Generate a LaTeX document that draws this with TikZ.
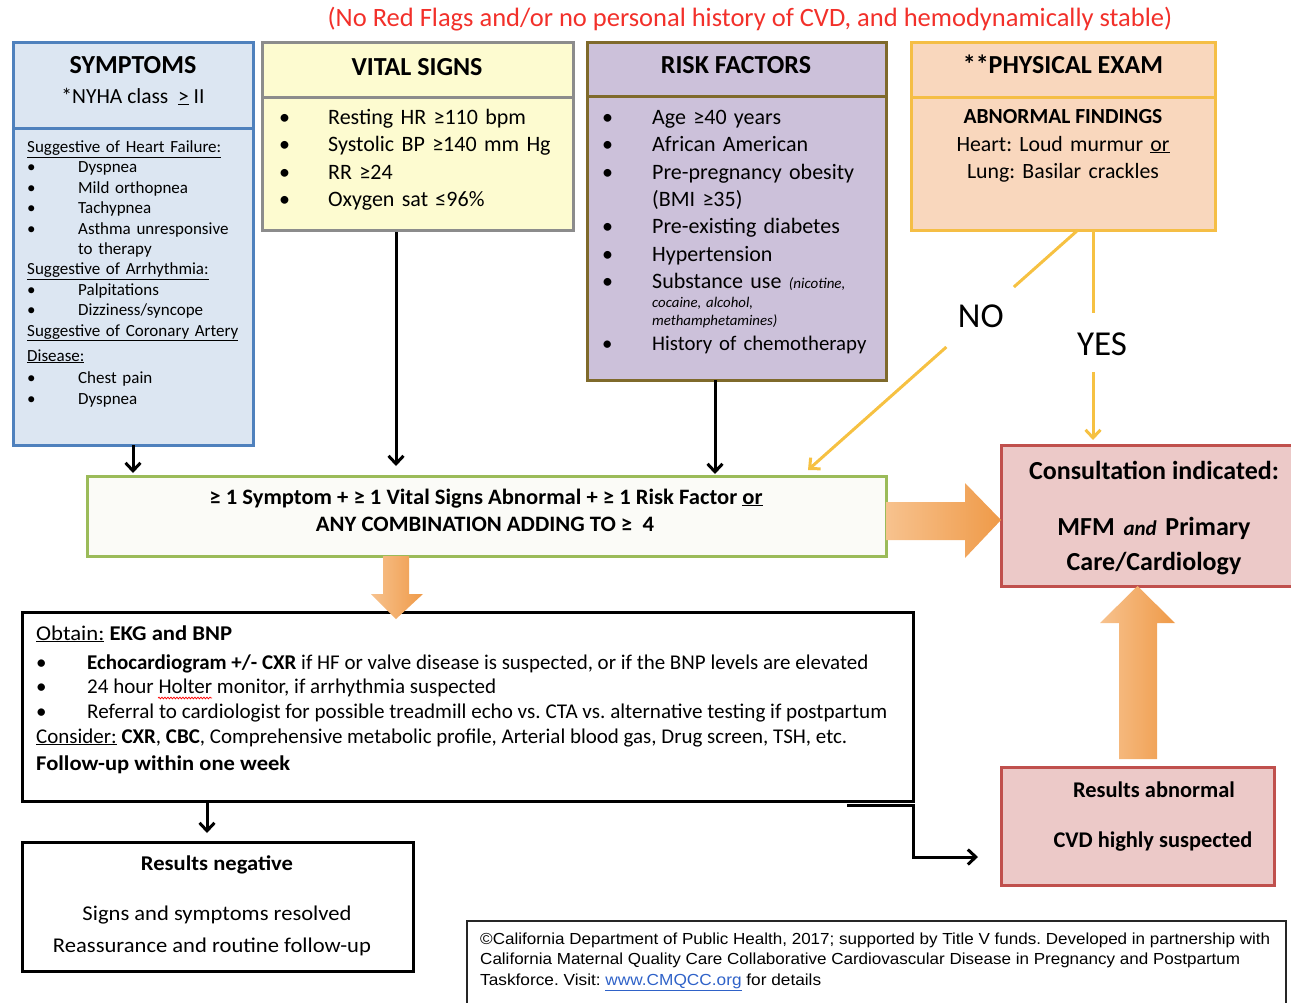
\documentclass[tikz,border=0pt]{standalone}
\usepackage{fontspec}
\usepackage{graphicx}
\setmainfont{Carlito}
\newfontfamily\arialf{Liberation Sans}
\usetikzlibrary{arrows.meta,calc,decorations.pathmorphing}
\definecolor{symF}{HTML}{DCE6F2}
\definecolor{symD}{HTML}{4F81BD}
\definecolor{vitF}{HTML}{FDFBD0}
\definecolor{vitD}{HTML}{8C8C8C}
\definecolor{rskF}{HTML}{CCC1DA}
\definecolor{rskD}{HTML}{7F6A2B}
\definecolor{phyF}{HTML}{F9D7BD}
\definecolor{phyD}{HTML}{F5BE45}
\definecolor{midF}{HTML}{FBFBF7}
\definecolor{midD}{HTML}{9BBB59}
\definecolor{conF}{HTML}{ECC9C8}
\definecolor{conD}{HTML}{C0504D}
\definecolor{orL}{HTML}{F7C28E}
\definecolor{orR}{HTML}{EF9A48}
\definecolor{gold}{HTML}{F6C142}
\definecolor{ttl}{HTML}{F2302A}
\definecolor{lnk}{HTML}{2F62C8}
\newcommand\fs[2]{\fontsize{#1}{#2}\selectfont}
\newcommand\bl[1]{\makebox[#1][l]{•}}
\frenchspacing
\tikzset{
  tl/.style={inner sep=0pt, anchor=base west},
  tcx/.style={inner sep=0pt, anchor=base},
  bx/.style={draw, line width=3pt, anchor=north west, inner sep=0pt, outer sep=0pt},
  arr/.style={line width=3pt, -{Straight Barb[length=8pt,width=15pt]}},
  yl/.style={draw=gold, line width=3pt},
  yarr/.style={yl, -{Straight Barb[length=8pt,width=15pt]}},
  oar/.style={left color=orL, right color=orR, draw=none},
}
\begin{document}
\begin{tikzpicture}[x=1pt,y=-1pt]
\useasboundingbox (0,0) rectangle (1291,1002);

% title
\node[tcx,text=ttl,font=\fs{26.5}{30}] (title) at (750,26) {(No Red Flags and/or no personal history of CVD, and hemodynamically stable)};

% symptoms
\node[bx,draw=symD,fill=symF,minimum width=240pt,minimum height=317pt] (symB) at (13,128) {};
\node[bx,draw=symD,fill=symF,minimum width=240pt,minimum height=86pt] (symH) at (13,42) {};
\node[tcx,font=\fs{26}{30}\bfseries] (symT) at (133,73.5) {SYMPTOMS};
\node[tcx,font=\fs{21.5}{24}] (nyha) at (133,103) {*NYHA class\ \ \underline{>}\ II};
\node[tl,text width=230pt,align=left,font=\fs{17}{20.4}] (symL) at (27,152.5) {\underline{Suggestive of Heart Failure:}\\
\bl{51pt}Dyspnea\\ \bl{51pt}Mild orthopnea\\ \bl{51pt}Tachypnea\\ \bl{51pt}Asthma unresponsive\\ \hspace*{51pt}to therapy\\
\underline{Suggestive of Arrhythmia:}\\ \bl{51pt}Palpitations\\ \bl{51pt}Dizziness/syncope\\
\underline{Suggestive of Coronary Artery}\\[4.6pt] \underline{Disease:}\\[1.6pt] \bl{51pt}Chest pain\\[0.6pt] \bl{51pt}Dyspnea};

% vital signs
\node[bx,draw=vitD,fill=vitF,minimum width=311pt,minimum height=133pt] (vitB) at (262,97) {};
\node[bx,draw=vitD,fill=vitF,minimum width=311pt,minimum height=55pt] (vitH) at (262,42) {};
\node[tcx,font=\fs{26}{30}\bfseries] (vitT) at (417,75) {VITAL SIGNS};
\node[tl,text width=300pt,align=left,font=\fs{22}{27.3}] (vitL) at (279,124.5) {\bl{49pt}Resting HR ≥110 bpm\\ \bl{49pt}Systolic BP ≥140 mm Hg\\ \bl{49pt}RR ≥24\\ \bl{49pt}Oxygen sat ≤96\%};

% risk factors
\node[bx,draw=rskD,fill=rskF,minimum width=299pt,minimum height=284pt] (rskB) at (587,96) {};
\node[bx,draw=rskD,fill=rskF,minimum width=299pt,minimum height=54pt] (rskH) at (587,42) {};
\node[tcx,font=\fs{26}{30}\bfseries] (rskT) at (736,73) {RISK FACTORS};
\node[tl,text width=290pt,align=left,font=\fs{22}{27.3}] (rskL) at (602,124.5) {\bl{50pt}Age ≥40 years\\ \bl{50pt}African American\\ \bl{50pt}Pre-pregnancy obesity\\ \hspace*{50pt}(BMI ≥35)\\ \bl{50pt}Pre-existing diabetes\\ \bl{50pt}Hypertension\\ \bl{50pt}Substance use {\fs{15}{27.3}\itshape (nicotine,}};
\node[tl,text width=200pt,align=left,font=\fs{14.8}{18}\itshape] (rskS) at (652,307) {cocaine, alcohol,\\ methamphetamines)};
\node[tl,text width=290pt,align=left,font=\fs{20.8}{27}] (rskC) at (602,350) {\bl{50pt}History of chemotherapy};

% physical exam
\node[bx,draw=phyD,fill=phyF,minimum width=304pt,minimum height=133pt] (phyB) at (911,97) {};
\node[bx,draw=phyD,fill=phyF,minimum width=304pt,minimum height=55pt] (phyH) at (911,42) {};
\node[tcx,font=\fs{26}{30}\bfseries] (phyT) at (1063,73) {**PHYSICAL EXAM};
\node[tcx,font=\fs{21.5}{27}\bfseries] (abn) at (1063,123) {ABNORMAL FINDINGS};
\node[tcx,text width=300pt,align=center,font=\fs{21.8}{27}] (phyL) at (1063,151) {Heart: Loud murmur \underline{or}\\ Lung: Basilar crackles};

% middle criteria box
\node[bx,draw=midD,fill=midF,minimum width=799pt,minimum height=80pt] (mid) at (87,476) {};
\node[tcx,font=\fs{22}{26}\bfseries] (midA) at (486,504) {\resizebox{553pt}{\height}{≥ 1 Symptom + ≥ 1 Vital Signs Abnormal + ≥ 1 Risk Factor \underline{or}}};
\node[tcx,font=\fs{22}{26}\bfseries] (midB) at (485,531) {\resizebox{338pt}{\height}{ANY COMBINATION ADDING TO ≥\ \ 4}};

% consultation
\node[bx,draw=conD,fill=conF,minimum width=293pt,minimum height=141pt] (con) at (1001,445) {};
\node[tcx,font=\fs{26}{30}\bfseries] (conA) at (1154,479) {Consultation indicated:};
\node[tcx,font=\fs{26}{35}\bfseries,align=center,text width=280pt] (conB) at (1154,535) {MFM {\fs{21}{35}\itshape and} Primary\\ Care/Cardiology};

% results abnormal
\node[bx,draw=conD,fill=conF,minimum width=273pt,minimum height=118pt] (abnR) at (1001,767) {};
\node[tcx,font=\fs{22.4}{26}\bfseries] (abnA) at (1154,797) {Results abnormal};
\node[tcx,font=\fs{22.4}{26}\bfseries] (abnB) at (1153,847) {CVD highly suspected};

% obtain box
\node[bx,draw=black,fill=white,minimum width=891pt,minimum height=189pt] (obt) at (22,612) {};
\node[tl,font=\fs{21}{25}] (obA) at (36,640) {\resizebox{196pt}{\height}{\underline{Obtain:} \textbf{EKG and BNP}}};
\node[tl,text width=20pt,align=left,font=\fs{21}{24.5}] (obBul) at (36,669) {•\\•\\•};
\node[tl,font=\fs{21}{25}] (ob1) at (87,669) {\resizebox{781pt}{\height}{\textbf{Echocardiogram +/- CXR} if HF or valve disease is suspected, or if the BNP levels are elevated}};
\node[tl,font=\fs{21}{25}] (ob2) at (87,693.5) {\resizebox{409pt}{\height}{24 hour Holter monitor, if arrhythmia suspected}};
\node[tl,font=\fs{21}{25}] (ob3) at (87,718) {\resizebox{800pt}{\height}{Referral to cardiologist for possible treadmill echo vs. CTA vs. alternative testing if postpartum}};
\node[tl,font=\fs{21}{25}] (ob4) at (36,743) {\resizebox{811pt}{\height}{\underline{Consider:} \textbf{CXR}, \textbf{CBC}, Comprehensive metabolic profile, Arterial blood gas, Drug screen, TSH, etc.}};
\node[tl,font=\fs{21}{25}\bfseries] (ob5) at (36,770) {\resizebox{254pt}{\height}{Follow-up within one week}};
\draw[red, line width=0.7pt, decorate, decoration={snake,amplitude=0.9pt,segment length=3pt}] (158,698) -- (212,698);

% results negative
\node[bx,draw=black,fill=white,minimum width=391pt,minimum height=129pt] (neg) at (22,842) {};
\node[tcx,font=\fs{21}{25}\bfseries] (negA) at (217,870) {\resizebox{152pt}{\height}{Results negative}};
\node[tcx,font=\fs{21}{25}] (negB) at (217,920) {\resizebox{269pt}{\height}{Signs and symptoms resolved}};
\node[tcx,font=\fs{21}{25}] (negC) at (212,952) {\resizebox{318pt}{\height}{Reassurance and routine follow-up}};

% footer
\node[bx,draw=black!85,line width=1.3pt,minimum width=819pt,minimum height=95pt] (foot) at (467,921) {};
\node[tl,font=\arialf\fs{16}{20}] (ftA) at (480,944) {\resizebox{790pt}{\height}{©California Department of Public Health, 2017; supported by Title V funds. Developed in partnership with}};
\node[tl,font=\arialf\fs{16}{20}] (ftB) at (480,964.5) {\resizebox{760pt}{\height}{California Maternal Quality Care Collaborative Cardiovascular Disease in Pregnancy and Postpartum}};
\node[tl,font=\arialf\fs{16}{20}] (ftC) at (480,985) {\resizebox{341pt}{\height}{Taskforce. Visit: \textcolor{lnk}{\underline{www.CMQCC.org}} for details}};

% black arrows
\draw[arr] (symB.south) -- ($(symB.south)+(0,28)$);
\draw[arr] ($(vitB.south)+(-21.5,2)$) -- ($(vitB.south)+(-21.5,236)$);
\draw[arr] ($(rskB.south)+(-21.5,0)$) -- ($(rskB.south)+(-21.5,94)$);
\draw[arr] ($(obt.south west)+(185,0)$) -- ($(neg.north west)+(185,-9)$);
\draw[arr] ($(obt.south east)+(-66,4)$) -- ($(obt.south east)+(0,4)$) -- ($(obt.south east)+(0,56)$) -- ($(abnR.south west)+(-23,-28)$);

% orange block arrows
\path[oar] ($(mid.east)+(0,-14)$) -- ++(79,0) -- ++(0,-19) -- ($(con.west)+(0,4.5)$) -- ($(mid.east)+(79,42)$) -- ++(0,-18) -- ($(mid.east)+(0,24)$) -- cycle;
\path[oar] ($(mid.south west)+(296,0)$) -- ++(26,0) -- ++(0,38) -- ++(14,0) -- ($(obt.north west)+(374,7)$) -- ($(mid.south west)+(284,38)$) -- ++(12,0) -- cycle;
\path[oar] ($(abnR.north)+(-18.5,-8)$) -- ++(38,0) -- ++(0,-136) -- ++(18,0) -- ($(abnR.north|-con.south)$) -- ($(abnR.north)+(-37.5,-144)$) -- ++(19,0) -- cycle;

% yellow NO / YES
\coordinate (noS) at ($(phyB.south)+(15,0)$);
\coordinate (noE) at ($(mid.north east)+(-78,-6)$);
\draw[yl] (noS) -- ($(noS)!0.2375!(noE)$);
\draw[yarr] ($(noS)!0.4875!(noE)$) -- (noE);
\node[font=\fs{35}{38},inner sep=0pt] (no) at ($(noS)!0.36!(noE)$) {NO};
\coordinate (yS) at ($(phyB.south)+(30,0)$);
\coordinate (yE) at ($(con.north west)+(92,-5)$);
\draw[yl] (yS) -- ($(yS)!0.395!(yE)$);
\draw[yarr] ($(yS)!0.676!(yE)$) -- (yE);
\node[font=\fs{35}{38},inner sep=0pt] (yes) at ($(yS)!0.543!(yE)+(9,0)$) {YES};
\end{tikzpicture}
\end{document}
